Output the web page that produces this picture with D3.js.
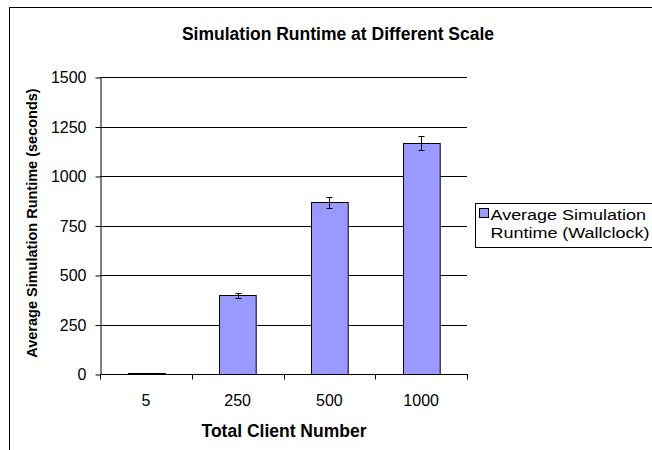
<!DOCTYPE html>
<html>
<head>
<meta charset="utf-8">
<script src="https://cdn.jsdelivr.net/npm/d3@7"></script>
<style>
  body { margin: 0; background: #fff; }
  svg text { font-family: "Liberation Sans", Arial, sans-serif; fill: #000; }
</style>
</head>
<body>
<div id="chart"></div>
<script>
const categories = ["5", "250", "500", "1000"];
const runtimes = [3, 398, 867, 1168];
const errors = [1, 12, 27, 35];
const yTicks = [0, 250, 500, 750, 1000, 1250, 1500];
const legendLines = ["Average Simulation", "Runtime (Wallclock)"];

function init() {
    const width = 652;
    const height = 450;
    const plot = { left: 100, right: 467, top: 77, bottom: 374 };
    const font = "'Liberation Sans', Arial, sans-serif";

    const svg = d3.select("#chart")
        .append("svg")
        .attr("width", width)
        .attr("height", height)
        .attr("font-family", font);

    // chart frame (runs past the right and bottom edges)
    svg.append("rect")
        .attr("x", 9.5)
        .attr("y", 7.5)
        .attr("width", 800)
        .attr("height", 600)
        .attr("fill", "#fff")
        .attr("stroke", "#000");

    const x = d3.scaleBand()
        .domain(categories)
        .range([plot.left, plot.right])
        .paddingInner(0.6)
        .paddingOuter(0.3);
    const y = d3.scaleLinear().domain([0, 1500]).range([plot.bottom, plot.top]);

    // gridlines
    svg.append("g")
        .selectAll("line")
        .data(yTicks.filter(d => d > 0))
        .enter()
        .append("line")
        .attr("x1", plot.left)
        .attr("x2", plot.right)
        .attr("y1", d => Math.round(y(d)) + 0.5)
        .attr("y2", d => Math.round(y(d)) + 0.5)
        .attr("stroke", "#000");

    // bars
    svg.append("g")
        .selectAll("rect")
        .data(runtimes)
        .enter()
        .append("rect")
        .attr("x", (d, i) => Math.round(x(categories[i])) + 0.5)
        .attr("y", d => Math.round(y(d)) + 0.5)
        .attr("width", x.bandwidth())
        .attr("height", d => Math.max(0, Math.round(y(0)) - Math.round(y(d))))
        .attr("fill", "#9999ff")
        .attr("stroke", "#000");

    // error bars
    const eb = svg.append("g").attr("stroke", "#000");
    runtimes.forEach((v, i) => {
        const cx = Math.round(x(categories[i]) + x.bandwidth() / 2) + 0.5;
        const y1 = Math.round(y(v + errors[i])) + 0.5;
        const y2 = Math.round(y(v - errors[i])) + 0.5;
        eb.append("line").attr("x1", cx).attr("x2", cx).attr("y1", y1).attr("y2", y2);
        eb.append("line").attr("x1", cx - 3).attr("x2", cx + 3).attr("y1", y1).attr("y2", y1);
        eb.append("line").attr("x1", cx - 3).attr("x2", cx + 3).attr("y1", y2).attr("y2", y2);
    });

    // y axis
    const yAxis = svg.append("g")
        .attr("transform", `translate(${plot.left + 0.5},0.5)`)
        .call(d3.axisLeft(y).tickValues(yTicks).tickFormat(d3.format("d"))
            .tickSize(5).tickPadding(9).tickSizeOuter(0));
    yAxis.attr("font-family", font);
    yAxis.select(".domain").attr("stroke", "#000");
    yAxis.selectAll(".tick line").attr("stroke", "#000");
    yAxis.selectAll("text").attr("font-size", 16);

    // x axis with ticks on category boundaries
    const xAxisG = svg.append("g").attr("transform", `translate(0,${plot.bottom + 0.5})`);
    xAxisG.append("line")
        .attr("x1", plot.left)
        .attr("x2", plot.right + 1)
        .attr("stroke", "#000");
    const step = (plot.right - plot.left) / categories.length;
    d3.range(categories.length + 1).forEach(i => {
        const tx = Math.round(plot.left + i * step) + 0.5;
        xAxisG.append("line")
            .attr("x1", tx).attr("x2", tx)
            .attr("y1", 0).attr("y2", 5)
            .attr("stroke", "#000");
    });
    xAxisG.selectAll("text.cat")
        .data(categories)
        .enter()
        .append("text")
        .attr("class", "cat")
        .attr("x", d => x(d) + x.bandwidth() / 2)
        .attr("y", 31)
        .attr("text-anchor", "middle")
        .attr("font-size", 16)
        .text(d => d);

    // title
    svg.append("text")
        .attr("x", 338)
        .attr("y", 40)
        .attr("text-anchor", "middle")
        .attr("font-size", 17.5)
        .attr("font-weight", "bold")
        .text("Simulation Runtime at Different Scale");

    // axis titles
    svg.append("text")
        .attr("x", 284)
        .attr("y", 437)
        .attr("text-anchor", "middle")
        .attr("font-size", 17.5)
        .attr("font-weight", "bold")
        .text("Total Client Number");

    svg.append("text")
        .attr("transform", "translate(37,223) rotate(-90)")
        .attr("text-anchor", "middle")
        .attr("font-size", 14.5)
        .attr("font-weight", "bold")
        .text("Average Simulation Runtime (seconds)");

    // legend (box runs off the right edge like the original)
    const legend = svg.append("g").attr("transform", "translate(475.5,203.5)");
    legend.append("rect")
        .attr("width", 300)
        .attr("height", 44)
        .attr("fill", "#fff")
        .attr("stroke", "#000");
    legend.append("rect")
        .attr("x", 4)
        .attr("y", 5)
        .attr("width", 9)
        .attr("height", 9)
        .attr("fill", "#9999ff")
        .attr("stroke", "#000");
    legendLines.forEach((t, i) => {
        legend.append("text")
            .attr("transform", `translate(15,${16 + i * 18}) scale(1.16,1)`)
            .attr("font-size", 15.5)
            .text(t);
    });
}

window.onload = init;
</script>
</body>
</html>
